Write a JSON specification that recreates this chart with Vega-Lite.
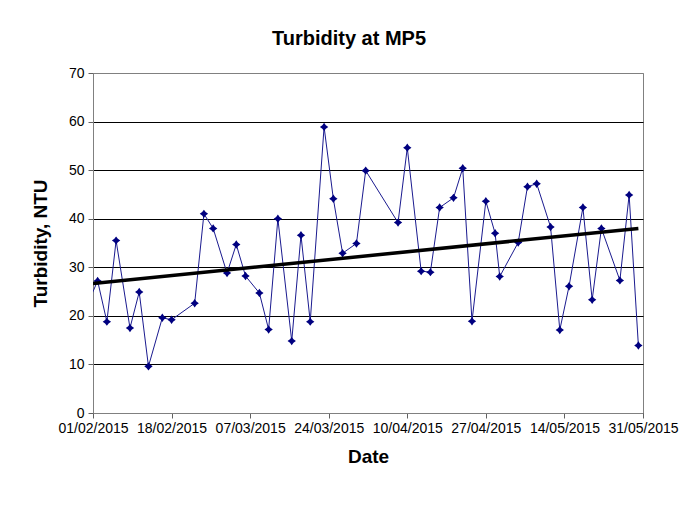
{
  "$schema": "https://vega.github.io/schema/vega-lite/v6.json",
  "width": 550,
  "height": 340,
  "autosize": {"type": "none"},
  "padding": {"left": 93, "top": 73, "right": 55, "bottom": 96},
  "background": "white",
  "title": {
    "text": "Turbidity at MP5",
    "font": "Liberation Sans",
    "fontSize": 20,
    "fontWeight": "bold",
    "color": "black",
    "anchor": "middle",
    "dx": -19,
    "offset": 17
  },
  "config": {
    "view": {"stroke": "#808080", "strokeWidth": 1},
    "axis": {
      "labelFont": "Liberation Sans",
      "labelFontSize": 14,
      "labelColor": "black",
      "titleFont": "Liberation Sans",
      "titleFontSize": 19,
      "titleFontWeight": "bold",
      "titleColor": "black",
      "domainColor": "#808080",
      "tickColor": "#606060",
      "tickSize": 5
    }
  },
  "data": {
    "values": [
      {"date": "2015-01-31", "value": 22.8},
      {"date": "2015-02-02", "value": 27.2},
      {"date": "2015-02-04", "value": 18.8},
      {"date": "2015-02-06", "value": 35.5},
      {"date": "2015-02-09", "value": 17.5},
      {"date": "2015-02-11", "value": 24.9},
      {"date": "2015-02-13", "value": 9.6},
      {"date": "2015-02-16", "value": 19.6},
      {"date": "2015-02-18", "value": 19.2},
      {"date": "2015-02-23", "value": 22.6},
      {"date": "2015-02-25", "value": 41.0},
      {"date": "2015-02-27", "value": 38.0},
      {"date": "2015-03-02", "value": 28.8},
      {"date": "2015-03-04", "value": 34.7},
      {"date": "2015-03-06", "value": 28.2},
      {"date": "2015-03-09", "value": 24.7},
      {"date": "2015-03-11", "value": 17.2},
      {"date": "2015-03-13", "value": 40.0},
      {"date": "2015-03-16", "value": 14.8},
      {"date": "2015-03-18", "value": 36.6},
      {"date": "2015-03-20", "value": 18.8},
      {"date": "2015-03-23", "value": 58.9},
      {"date": "2015-03-25", "value": 44.1},
      {"date": "2015-03-27", "value": 32.9},
      {"date": "2015-03-30", "value": 34.9},
      {"date": "2015-04-01", "value": 49.9},
      {"date": "2015-04-08", "value": 39.2},
      {"date": "2015-04-10", "value": 54.6},
      {"date": "2015-04-13", "value": 29.2},
      {"date": "2015-04-15", "value": 29.0},
      {"date": "2015-04-17", "value": 42.3},
      {"date": "2015-04-20", "value": 44.3},
      {"date": "2015-04-22", "value": 50.4},
      {"date": "2015-04-24", "value": 18.9},
      {"date": "2015-04-27", "value": 43.6},
      {"date": "2015-04-29", "value": 37.0},
      {"date": "2015-04-30", "value": 28.1},
      {"date": "2015-05-04", "value": 35.1},
      {"date": "2015-05-06", "value": 46.6},
      {"date": "2015-05-08", "value": 47.2},
      {"date": "2015-05-11", "value": 38.3},
      {"date": "2015-05-13", "value": 17.1},
      {"date": "2015-05-15", "value": 26.1},
      {"date": "2015-05-18", "value": 42.3},
      {"date": "2015-05-20", "value": 23.3},
      {"date": "2015-05-22", "value": 38.0},
      {"date": "2015-05-26", "value": 27.3},
      {"date": "2015-05-28", "value": 44.9},
      {"date": "2015-05-30", "value": 13.9}
    ]
  },
  "encoding": {
    "x": {
      "field": "date",
      "type": "temporal",
      "scale": {
        "type": "utc",
        "nice": false,
        "domain": [
          {"year": 2015, "month": 2, "date": 1, "utc": true},
          {"year": 2015, "month": 5, "date": 31, "utc": true}
        ]
      },
      "axis": {
        "title": "Date",
        "labelExpr": "utcFormat(datum.value, '%d/%m/%Y')",
        "values": [
          {"year": 2015, "month": 2, "date": 1, "utc": true},
          {"year": 2015, "month": 2, "date": 18, "utc": true},
          {"year": 2015, "month": 3, "date": 7, "utc": true},
          {"year": 2015, "month": 3, "date": 24, "utc": true},
          {"year": 2015, "month": 4, "date": 10, "utc": true},
          {"year": 2015, "month": 4, "date": 27, "utc": true},
          {"year": 2015, "month": 5, "date": 14, "utc": true},
          {"year": 2015, "month": 5, "date": 31, "utc": true}
        ],
        "grid": false,
        "labelPadding": 3,
        "labelOverlap": false,
        "labelFlush": false,
        "titlePadding": 12
      }
    },
    "y": {
      "field": "value",
      "type": "quantitative",
      "scale": {"domain": [0, 70], "nice": false},
      "axis": {
        "title": "Turbidity,  NTU",
        "values": [0, 10, 20, 30, 40, 50, 60, 70],
        "grid": true,
        "gridColor": {"condition": {"test": "datum.value === 70", "value": "#808080"}, "value": "black"},
        "gridWidth": 1,
        "gridOpacity": 1,
        "labelPadding": 4,
        "titlePadding": 18
      }
    }
  },
  "layer": [
    {
      "mark": {"type": "line", "color": "#1a1a8f", "strokeWidth": 1, "clip": true}
    },
    {
      "mark": {
        "type": "point",
        "shape": "M0,-1L0.42,-0.42L1,0L0.42,0.42L0,1L-0.42,0.42L-1,0L-0.42,-0.42Z",
        "filled": true,
        "color": "#000080",
        "opacity": 1,
        "size": 70,
        "clip": true
      }
    },
    {
      "transform": [
        {"filter": "datum.date >= utc(2015, 1, 1)"},
        {"regression": "value", "on": "date", "extent": [1422748800000, 1432944000000]}
      ],
      "mark": {"type": "line", "color": "black", "strokeWidth": 3.5, "clip": true}
    }
  ]
}
